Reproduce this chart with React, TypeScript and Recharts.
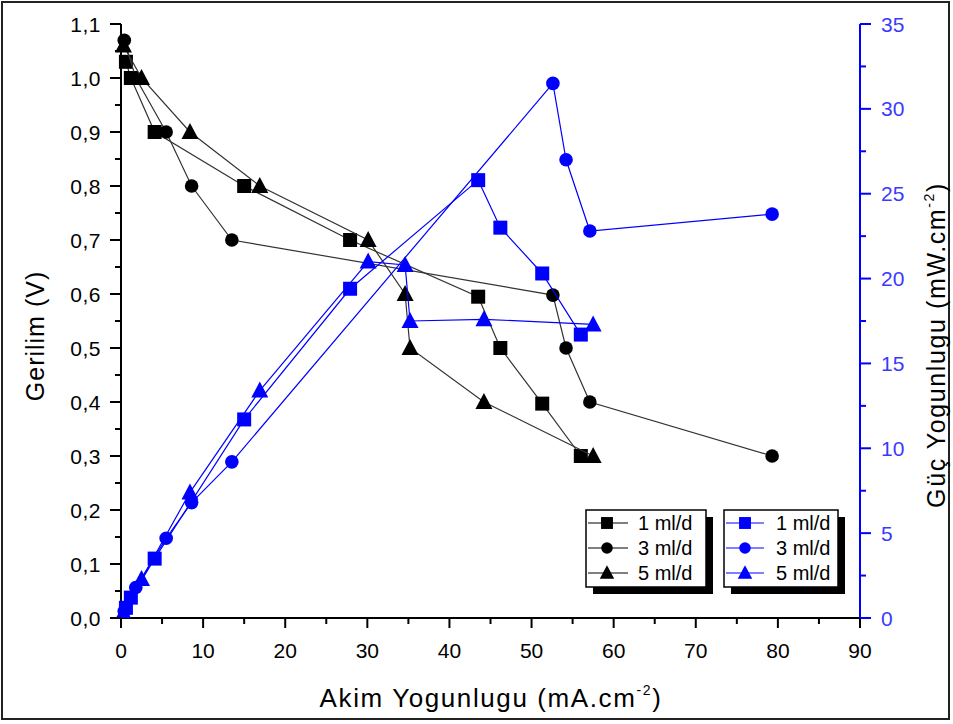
import React from 'react';
import { ComposedChart, Scatter, XAxis, YAxis } from 'recharts';

// ---- data ----
const current1 = [0.6, 1.2, 4.1, 15.0, 27.9, 43.5, 46.2, 51.3, 56.0];
const voltage1 = [1.03, 1.0, 0.9, 0.8, 0.7, 0.595, 0.5, 0.397, 0.3];
const power1 = [0.6, 1.2, 3.5, 11.7, 19.4, 25.8, 23.0, 20.3, 16.7];

const current3 = [0.4, 1.8, 5.5, 8.6, 13.5, 52.6, 54.2, 57.1, 79.3];
const voltage3 = [1.07, 1.0, 0.9, 0.8, 0.7, 0.598, 0.5, 0.4, 0.3];
const power3 = [0.4, 1.8, 4.7, 6.8, 9.2, 31.5, 27.0, 22.8, 23.8];

const current5 = [0.3, 2.5, 8.4, 16.9, 30.1, 34.6, 35.2, 44.2, 57.5];
const voltage5 = [1.06, 1.0, 0.9, 0.8, 0.7, 0.6, 0.5, 0.4, 0.3];
const power5 = [0.3, 2.3, 7.4, 13.4, 21.0, 20.8, 17.5, 17.6, 17.3];

const seriesNames = ['1 ml/d', '3 ml/d', '5 ml/d'];
const xTicks = [0, 5, 10, 15, 20, 25, 30, 35, 40, 45, 50, 55, 60, 65, 70, 75, 80, 85, 90];
const leftTicks = [0, 0.05, 0.1, 0.15, 0.2, 0.25, 0.3, 0.35, 0.4, 0.45, 0.5, 0.55, 0.6, 0.65, 0.7, 0.75, 0.8, 0.85, 0.9, 0.95, 1.0, 1.05, 1.1];
const rightTicks = [0, 2.5, 5, 7.5, 10, 12.5, 15, 17.5, 20, 22.5, 25, 27.5, 30, 32.5, 35];

const zip = (xs: number[], ys: number[]) => xs.map((x, i) => ({ x, y: ys[i] }));

const vData = [zip(current1, voltage1), zip(current3, voltage3), zip(current5, voltage5)];
const pData = [zip(current1, power1), zip(current3, power3), zip(current5, power5)];
const markers = ['square', 'circle', 'triangle'];

const FONT = '"Liberation Sans", Arial, sans-serif';
const BLUE = '#0000ff';
const BLUE_TEXT = '#3a3aff';
const TICK_FS = 21;

function Marker({ cx, cy, kind, color, s = 1 }: any) {
  if (cx == null || cy == null) return null;
  if (kind === 'square') {
    const h = 7 * s;
    return <rect x={cx - h} y={cy - h} width={2 * h} height={2 * h} fill={color} />;
  }
  if (kind === 'circle') {
    return <circle cx={cx} cy={cy} r={6.8 * s} fill={color} />;
  }
  const w = 8.5 * s;
  const hh = 8 * s;
  return (
    <polygon
      points={`${cx},${cy - hh - 1} ${cx - w},${cy + hh - 1} ${cx + w},${cy + hh - 1}`}
      fill={color}
    />
  );
}

const BottomTick = ({ x, y, payload }: any) => {
  const v = payload.value;
  const major = v % 10 === 0;
  return (
    <g>
      <line x1={x} y1={y} x2={x} y2={y + (major ? 10 : 6)} stroke="#000" strokeWidth={2} />
      {major && (
        <text x={x} y={y + 40} textAnchor="middle" fontSize={TICK_FS} fontFamily={FONT} fill="#000">
          {v}
        </text>
      )}
    </g>
  );
};

const TopTick = ({ x, y, payload }: any) => {
  const v = payload.value;
  const major = v % 10 === 0;
  return <line x1={x} y1={y} x2={x} y2={y + (major ? 11 : 7)} stroke="#000" strokeWidth={2} />;
};

const LeftTick = ({ x, y, payload }: any) => {
  const v = payload.value;
  const idx = Math.round(v * 20);
  const major = idx % 2 === 0;
  return (
    <g>
      <line x1={x} y1={y} x2={x - (major ? 11 : 6)} y2={y} stroke="#000" strokeWidth={2} />
      {major && (
        <text x={x - 20} y={y} dy="0.36em" textAnchor="end" fontSize={TICK_FS} fontFamily={FONT} fill="#000" letterSpacing={0.5}>
          {(idx / 20).toFixed(1).replace('.', ',')}
        </text>
      )}
    </g>
  );
};

const RightTick = ({ x, y, payload }: any) => {
  const v = payload.value;
  const major = v % 5 === 0;
  return (
    <g>
      <line x1={x} y1={y} x2={x + (major ? 11 : 6)} y2={y} stroke={BLUE} strokeWidth={2} />
      {major && (
        <text x={x + 21} y={y} dy="0.36em" textAnchor="start" fontSize={TICK_FS} fontFamily={FONT} fill={BLUE_TEXT}>
          {v}
        </text>
      )}
    </g>
  );
};

const LegendBox = ({ left, color }: any) => {
  const top = 510;
  const w = color === '#000' ? 120 : 114;
  const h = 77;
  const lineEnd = color === '#000' ? 42 : 40;
  return (
    <g>
      <rect x={left + 7} y={top + 7} width={w} height={h} fill="#000" />
      <rect x={left} y={top} width={w} height={h} fill="#fff" stroke="#000" strokeWidth={1.5} />
      {seriesNames.map((name, i) => {
        const cy = top + 13 + i * 25;
        return (
          <g key={name}>
            <line x1={left + 2} y1={cy} x2={left + lineEnd} y2={cy} stroke={color} strokeWidth={1.2} />
            <Marker cx={left + 21} cy={cy} kind={markers[i]} color={color} s={0.85} />
            <text x={left + 52} y={cy} dy="0.36em" fontSize={20} fontFamily={FONT} fill="#000">
              {name}
            </text>
          </g>
        );
      })}
    </g>
  );
};

export default function App() {
  return (
    <div style={{ position: 'absolute', left: 0, top: 0, width: 953, height: 724, background: '#fff' }}>
      <div
        style={{
          position: 'absolute',
          left: 1,
          top: 1,
          width: 949,
          height: 719,
          border: '2px solid #222',
          boxSizing: 'border-box',
        }}
      />
      <div style={{ position: 'absolute', left: 0, top: 0 }}>
        <ComposedChart width={953} height={724} margin={{ top: 24, right: 0, bottom: 0, left: 0 }}>
          <XAxis
            xAxisId="bottom"
            dataKey="x"
            type="number"
            domain={[0, 90]}
            ticks={xTicks}
            interval={0}
            height={106}
            tickSize={0}
            tickMargin={0}
            tick={<BottomTick />}
            axisLine={{ stroke: '#000', strokeWidth: 2 }}
            label={{
              content: () => (
                <text x={491} y={707} textAnchor="middle" fontSize={26} fontFamily={FONT} fill="#000" letterSpacing={1.6}>
                  Akim Yogunlugu (mA.cm
                  <tspan fontSize={14} dy={-12}>-2</tspan>
                  <tspan dy={12}>)</tspan>
                </text>
              ),
            }}
          />
          <XAxis
            xAxisId="top"
            orientation="top"
            type="number"
            domain={[0, 90]}
            ticks={xTicks}
            interval={0}
            height={0}
            tickSize={0}
            tickMargin={0}
            tick={<TopTick />}
            axisLine={{ stroke: '#000', strokeWidth: 2 }}
          />
          <YAxis
            yAxisId="left"
            dataKey="y"
            type="number"
            domain={[0, 1.1]}
            ticks={leftTicks}
            interval={0}
            width={121}
            tickSize={0}
            tickMargin={0}
            tick={<LeftTick />}
            axisLine={{ stroke: '#000', strokeWidth: 2 }}
            allowDataOverflow
            label={{
              content: () => (
                <text
                  x={35}
                  y={336}
                  transform="rotate(-90 35 336)"
                  dy="0.36em"
                  textAnchor="middle"
                  fontSize={25}
                  fontFamily={FONT}
                  fill="#000"
                  letterSpacing={1}
                >
                  Gerilim (V)
                </text>
              ),
            }}
          />
          <YAxis
            yAxisId="right"
            orientation="right"
            dataKey="y"
            type="number"
            domain={[0, 35]}
            ticks={rightTicks}
            interval={0}
            width={93}
            tickSize={0}
            tickMargin={0}
            tick={<RightTick />}
            axisLine={{ stroke: BLUE, strokeWidth: 2 }}
            allowDataOverflow
            label={{
              content: () => (
                <text
                  x={936}
                  y={345}
                  transform="rotate(-90 936 345)"
                  dy="0.36em"
                  textAnchor="middle"
                  fontSize={25}
                  fontFamily={FONT}
                  fill="#000"
                  letterSpacing={1.6}
                >
                  Güç Yogunlugu (mW.cm
                  <tspan fontSize={14} dy={-11}>-2</tspan>
                  <tspan dy={11}>)</tspan>
                </text>
              ),
            }}
          />
          {vData.map((d, i) => (
            <Scatter
              key={'v' + i}
              name={seriesNames[i]}
              data={d}
              xAxisId="bottom"
              yAxisId="left"
              isAnimationActive={false}
              line={{ stroke: '#333', strokeWidth: 1.2 }}
              lineType="joint"
              shape={(p: any) => <Marker cx={p.cx} cy={p.cy} kind={markers[i]} color="#000" />}
            />
          ))}
          {pData.map((d, i) => (
            <Scatter
              key={'p' + i}
              name={seriesNames[i] + ' P'}
              data={d}
              xAxisId="bottom"
              yAxisId="right"
              isAnimationActive={false}
              line={{ stroke: BLUE, strokeWidth: 1.2 }}
              lineType="joint"
              shape={(p: any) => <Marker cx={p.cx} cy={p.cy} kind={markers[i]} color={BLUE} />}
            />
          ))}
        </ComposedChart>
      </div>
      <svg width={953} height={724} style={{ position: 'absolute', left: 0, top: 0, pointerEvents: 'none' }}>
        <LegendBox left={586} color="#000" />
        <LegendBox left={724} color={BLUE} />
      </svg>
    </div>
  );
}
